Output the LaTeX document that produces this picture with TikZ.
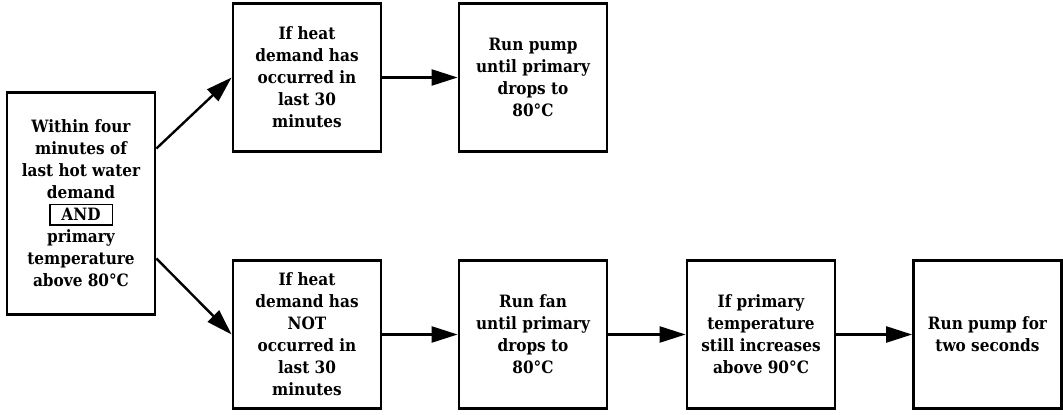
\documentclass[tikz,border=0pt]{standalone}
\usepackage{fontspec}
\setmainfont{DejaVu Serif Condensed}
\usetikzlibrary{arrows.meta}
\begin{document}
\begin{tikzpicture}[x=1pt,y=1pt,
  stepbox/.style={draw,line width=2.8pt,minimum width=148pt,minimum height=148pt,align=center,inner sep=0pt,
    font=\fontsize{17}{22}\selectfont\bfseries},
  arr/.style={line width=2.4pt,-{Triangle[length=26pt,width=16pt]}}]
\useasboundingbox (0,0) rectangle (1063,415);
\setlength{\fboxrule}{1.4pt}
\setlength{\fboxsep}{3.5pt}
\node[stepbox,minimum height=222pt] (cond) at (81,211.5) {Within four\\minutes of\\last hot water\\demand\\\fbox{\makebox[54pt]{AND}}\\primary\\temperature\\above 80°C};
\node[stepbox] (t1) at (307,337.5) {If heat\\demand has\\occurred in\\last 30\\minutes};
\node[stepbox] (t2) at (533,337.5) {Run pump\\until primary\\drops to\\80°C};
\node[stepbox] (b1) at (307,80.5) {If heat\\demand has\\NOT\\occurred in\\last 30\\minutes};
\node[stepbox] (b2) at (533,80.5) {Run fan\\until primary\\drops to\\80°C};
\node[stepbox] (b3) at (761,80.5) {If primary\\temperature\\still increases\\above 90°C};
\node[stepbox] (b4) at (987.5,80.5) {Run pump for\\two seconds};
\draw[arr] ([yshift=55pt]cond.east) -- (t1.west);
\draw[arr] ([yshift=-55pt]cond.east) -- (b1.west);
\draw[arr] (t1) -- (t2);
\draw[arr] (b1) -- (b2);
\draw[arr] (b2) -- (b3);
\draw[arr] (b3) -- (b4);
\end{tikzpicture}
\end{document}
